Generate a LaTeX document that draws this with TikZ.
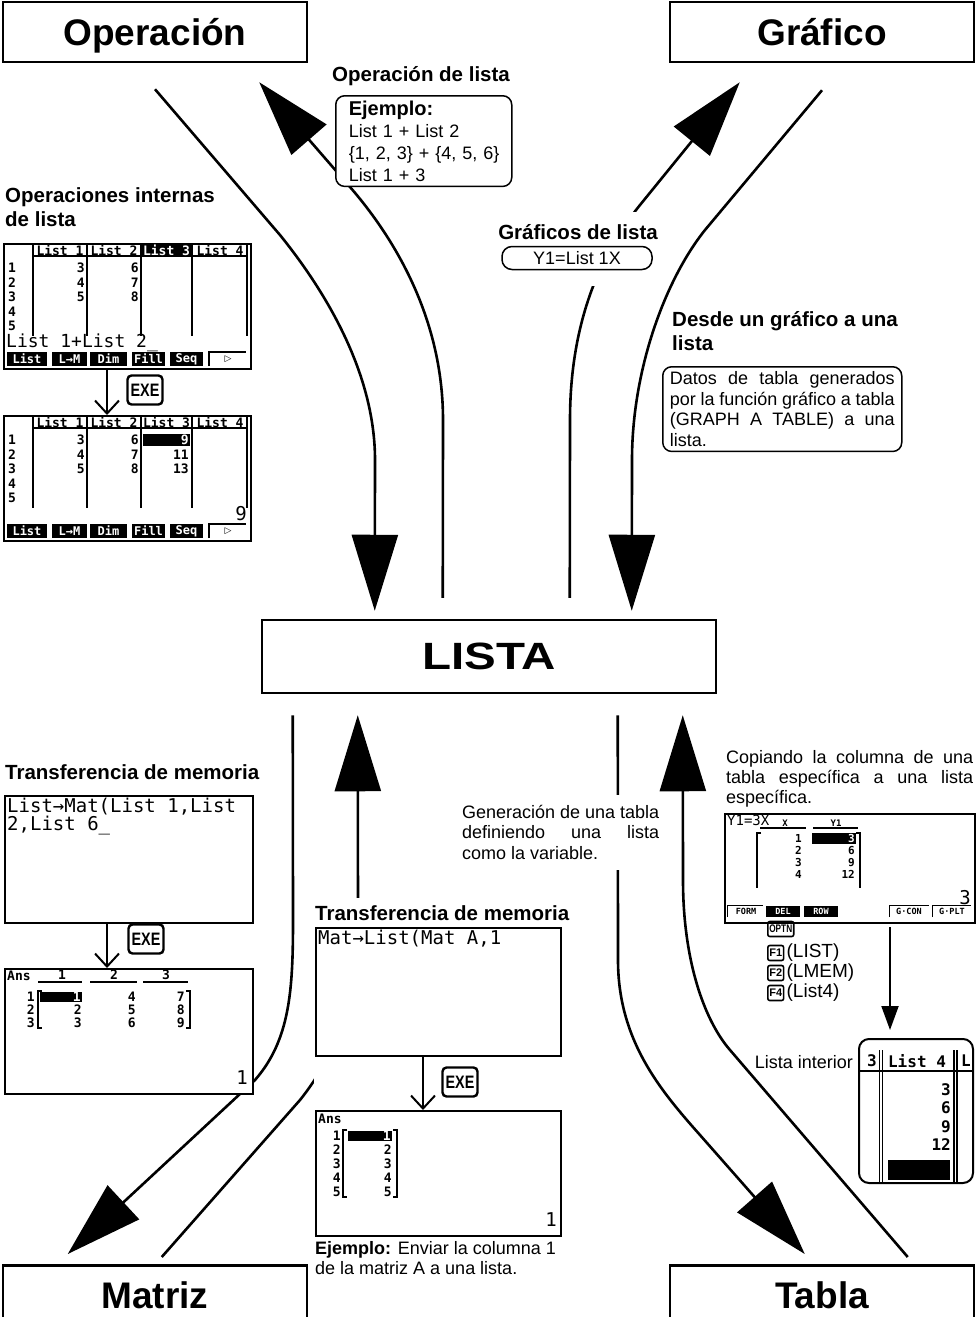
\documentclass[tikz,border=0pt]{standalone}
\usepackage{fontspec}
\setmainfont{Liberation Sans}
\newfontfamily\heavyfont{Liberation Sans}
\newfontfamily\lcdfont{DejaVu Sans Mono}
\newfontfamily\symfont{DejaVu Sans}
\usetikzlibrary{arrows.meta,positioning}

\tikzset{
  titlebox/.style={draw, line width=2.5pt, minimum width=304pt, minimum height=60pt, inner sep=0pt,
    text height=30pt, text depth=3.5pt, font=\heavyfont\bfseries\fontsize{37}{40}\selectfont},
  lbl/.style={font=\bfseries\fontsize{20.5}{24.5}\selectfont, inner sep=0pt, align=left},
  txt/.style={font=\fontsize{18}{20.5}\selectfont, inner sep=0pt},
  notebox/.style={draw, line width=1.5pt, rounded corners=9pt, fill=white},
  scr/.style={draw, line width=2pt, fill=white, inner sep=0pt, anchor=north west},
  calcline/.style={line width=1.3pt},
  lcdbig/.style={font=\lcdfont\fontsize{19}{15.5}\selectfont, inner sep=0pt, align=left},
  lcdsmall/.style={font=\lcdfont\bfseries\fontsize{13}{13}\selectfont, inner sep=0pt},
  s8text/.style={font=\lcdfont\bfseries\fontsize{16}{16}\selectfont, inner sep=0pt},
  calcmenu/.style={font=\lcdfont\bfseries\fontsize{12}{12}\selectfont, fill=black, text=white,
    inner sep=0pt, minimum height=14pt},
  exekey/.style={draw, line width=2.4pt, rounded corners=4pt, minimum width=35pt, minimum height=29pt,
    inner sep=0pt, font=\bfseries\fontsize{18}{18}\selectfont},
  fkey/.style={draw, line width=1.6pt, rounded corners=2pt, minimum height=15pt, inner sep=1.5pt,
    font=\bfseries\fontsize{11}{11}\selectfont},
  flow/.style={line width=2.6pt, -{Triangle[length=76pt,width=46pt]}},
  exearrow/.style={line width=2pt, -{Straight Barb[length=13pt,width=24pt]}},
}

\begin{document}
\begin{tikzpicture}[x=1pt, y=-1pt]
  \useasboundingbox (0,0) rectangle (978,1317);
  \clip (0,0) rectangle (978,1317);

  \node[titlebox] (oper) at (155,32) {Operación};
  \node[titlebox] (graf) at (822,32) {Gráfico};
  \node[draw, line width=2.5pt, minimum width=454pt, minimum height=73pt,
    font=\heavyfont\bfseries\fontsize{38}{40}\selectfont] (lista) at (489,656.5) {\scalebox{1.25}[1]{LISTA}};
  \node[titlebox, anchor=north] (matriz) at (155,1264) {Matriz};
  \node[titlebox, anchor=north] (tabla) at (822,1264) {Tabla};

  \draw[flow] ([yshift=-26pt]oper.south) -- (280,235) .. controls (322,287) and (375,370) .. (375,460)
    -- ([xshift=114pt,yshift=8pt]lista.north west);
  \draw[flow] ([xshift=182pt,yshift=21pt]lista.north west) -- (443,420) .. controls (443,320) and (396,240) .. (350,187)
    -- ([xshift=-49pt,yshift=-19pt]oper.south east);
  \draw[flow] ([xshift=309pt,yshift=21pt]lista.north west) -- (570,420) .. controls (570,320) and (602,252) .. (640,205)
    -- ([xshift=71pt,yshift=-19pt]graf.south west);
  \draw[flow] ([yshift=-27pt]graf.south) -- (705,230) .. controls (665,280) and (632,370) .. (632,460)
    -- ([xshift=371pt,yshift=8pt]lista.north west);
  \draw[flow] ([xshift=32pt,yshift=-21pt]lista.south west) -- (293,920) .. controls (293,990) and (290,1040) .. (255,1080)
    -- ([xshift=66pt,yshift=10pt]matriz.north west);
  \draw[flow] ([xshift=160pt,yshift=7pt]matriz.north west) -- (300,1100) .. controls (340,1050) and (358,990) .. (358,920)
    -- ([xshift=97pt,yshift=-21pt]lista.south west);
  \draw[flow] ([xshift=357pt,yshift=-21pt]lista.south west) -- (618,960) .. controls (618,1040) and (660,1090) .. (700,1135)
    -- ([xshift=136pt,yshift=10pt]tabla.north west);
  \draw[flow] ([xshift=239pt,yshift=7pt]tabla.north west) -- (730,1050) .. controls (704,1020) and (683,960) .. (683,880)
    -- ([xshift=422pt,yshift=-21pt]lista.south west);

  \fill[white] (540,212) rectangle (648,286);
  \fill[white] (314,898) rectangle (582,1246);

  \node[lbl] (oplbl) at (421,76) {Operación de lista};
  \node[notebox, txt, font=\fontsize{18}{22}\selectfont, anchor=north west, text width=162pt, align=left,
    inner xsep=7pt, inner ysep=5pt] (ejbox) at (335,95)
    {\hspace*{6pt}{\bfseries\fontsize{20}{22}\selectfont Ejemplo:}\\\hspace*{6pt}List 1 + List 2\\
     \hspace*{6pt}\{1, 2, 3\} + \{4, 5, 6\}\\\hspace*{6pt}List 1 + 3};

  \node[lbl] (grlbl) at (578,232) {Gráficos de lista};
  \node[notebox, txt, minimum width=150pt, minimum height=23pt, rounded corners=10pt] (y1box) at (577,258) {Y1=List 1X};

  \node[lbl, anchor=north west] (desde) at (672,311) {Desde un gráfico a una\\lista};
  \node[notebox, txt, anchor=north west, align=left, inner xsep=7pt, inner ysep=5pt] (gtab) at (662,366)
    {\makebox[225pt][s]{Datos de tabla generados}\\\makebox[225pt][s]{por la función gráfico a tabla}\\
     \makebox[225pt][s]{(GRAPH A TABLE) a una}\\lista.};

  \node[lbl, anchor=north west] (opint) at (5,187) {Operaciones internas\\de lista};

  \node[scr, minimum width=247pt, minimum height=125pt] (s1) at (3,243) {};
  \node[scr, minimum width=247pt, minimum height=125pt] (s2) at (3,415) {};
  \foreach \dy in {0,172} {
    \begin{scope}[shift={(0,\dy)}]
      \foreach \x in {33,87,141,192,247} \draw[calcline] (\x,244) -- (\x,336);
      \draw[calcline] (33,256) -- (248,256);
      \foreach \x/\t in {60/List 1,114/List 2,220/List 4} \node[lcdsmall] at (\x,250) {\t};
      \foreach \i/\y in {1/268,2/282.5,3/297,4/311.5,5/326} \node[lcdsmall] at (12,\y) {\i};
      \foreach \a/\b/\y in {3/6/268,4/7/282.5,5/8/297} {
        \node[lcdsmall, anchor=east] at (85,\y) {\a};
        \node[lcdsmall, anchor=east] at (139,\y) {\b};
      }
      \foreach \x/\w/\t in {27/40/List,69.5/35/L→M,108.5/37/Dim,148.5/33/Fill,186.5/33/Seq}
        \node[calcmenu, minimum width=\w pt] at (\x,359) {\t};
      \draw[calcline] (209,366) |- (246,352);
      \node[font=\symfont\fontsize{9}{9}\selectfont, inner sep=0pt] at (228,359) {▷};
    \end{scope}
  }
  \node[lcdsmall, fill=black, text=white, minimum width=49pt, minimum height=11pt] at (166.5,250) {List 3};
  \node[lcdbig, font=\lcdfont\fontsize{18}{18}\selectfont, anchor=west] at (6,343) {List 1+List 2\_};
  \node[lcdsmall] at (166.5,422) {List 3};
  \fill (143,434) rectangle (190,446);
  \node[lcdsmall, text=white, anchor=east] at (189,440) {9};
  \node[lcdsmall, anchor=east] at (189,454.5) {11};
  \node[lcdsmall, anchor=east] at (189,469) {13};
  \node[lcdbig, anchor=east] at (247,514) {9};

  \node[exekey] (e1) at (145,390) {\scalebox{0.8}[1]{EXE}};
  \draw[exearrow] ([xshift=104pt]s1.south west) -- ([xshift=104pt]s2.north west);

  \node[lbl, anchor=west] (tm1) at (5,772) {Transferencia de memoria};
  \node[scr, minimum width=248pt, minimum height=127pt] (s3) at (4,795) {};
  \node[lcdbig, anchor=north west] at (7,798) {List→Mat(List 1,List\\2,List 6\_};

  \node[scr, minimum width=248pt, minimum height=125pt] (s4) at (4,968) {};
  \node[exekey] (e2) at (146,939) {\scalebox{0.8}[1]{EXE}};
  \draw[exearrow] ([xshift=103pt]s3.south west) -- ([xshift=103pt]s4.north west);
  \node[lcdsmall, anchor=west] at (7,976) {Ans};
  \foreach \x/\t in {62/1,114/2,166/3} \node[lcdsmall] at (\x,975) {\t};
  \draw[calcline] (38,982) -- (82,982) (90,982) -- (137,982) (143,982) -- (188,982);
  \draw[calcline] (42,991) -- (38,991) -- (38,1028) -- (42,1028);
  \draw[calcline] (186,991) -- (190,991) -- (190,1028) -- (186,1028);
  \foreach \i/\y in {1/997,2/1010,3/1023} \node[lcdsmall, anchor=east] at (35,\y) {\i};
  \fill (40,992) rectangle (82,1002);
  \node[lcdsmall, text=white, anchor=east] at (81,997) {1};
  \node[lcdsmall, anchor=east] at (82,1010) {2};
  \node[lcdsmall, anchor=east] at (82,1023) {3};
  \foreach \a/\b/\y in {4/7/997,5/8/1010,6/9/1023} {
    \node[lcdsmall, anchor=east] at (136,\y) {\a};
    \node[lcdsmall, anchor=east] at (185,\y) {\b};
  }
  \node[lcdbig, anchor=east] at (248,1078) {1};

  \node[txt, anchor=north west, align=left, fill=white, inner ysep=10pt] (gen) at (462,795)
    {\makebox[197pt][s]{Generación de una tabla}\\\makebox[197pt][s]{definiendo una lista}\\como la variable.};

  \node[lbl, anchor=west] (tm2) at (315,913) {Transferencia de memoria};
  \node[scr, minimum width=245pt, minimum height=128pt] (s5) at (315,927) {};
  \node[lcdbig, anchor=west] at (318,939) {Mat→List(Mat A,1};

  \node[scr, minimum width=245pt, minimum height=125pt] (s6) at (315,1110) {};
  \node[exekey] (e3) at (460,1082) {\scalebox{0.8}[1]{EXE}};
  \draw[exearrow] ([xshift=108pt]s5.south west) -- ([xshift=108pt]s6.north west);
  \node[lcdsmall, anchor=west] at (318,1119) {Ans};
  \foreach \i/\y in {1/1136,2/1150,3/1164,4/1178,5/1192} \node[lcdsmall, anchor=east] at (341,\y) {\i};
  \draw[calcline] (347,1130) -- (343,1130) -- (343,1197) -- (347,1197);
  \draw[calcline] (393,1130) -- (397,1130) -- (397,1197) -- (393,1197);
  \fill (348,1131) rectangle (392,1141);
  \node[lcdsmall, text=white, anchor=east] at (391,1136) {1};
  \foreach \i/\y in {2/1150,3/1164,4/1178,5/1192} \node[lcdsmall, anchor=east] at (392,\y) {\i};
  \node[lcdbig, anchor=east] at (557,1220) {1};

  \node[txt, anchor=north west, align=left, font=\fontsize{18}{20}\selectfont] (ejm) at (315,1241)
    {{\bfseries Ejemplo:} Enviar la columna 1\\de la matriz A a una lista.};

  \node[txt, anchor=north west, align=left, font=\fontsize{18}{20}\selectfont] (copia) at (726,750)
    {\makebox[247pt][s]{Copiando la columna de una}\\\makebox[247pt][s]{tabla específica a una lista}\\específica.};

  \node[scr, minimum width=250pt, minimum height=109pt] (s7) at (724,813) {};
  \node[lcdbig, anchor=west, font=\lcdfont\fontsize{14}{14}\selectfont] at (727,820) {Y1=3X};
  \node[lcdsmall, font=\lcdfont\bfseries\fontsize{9}{9}\selectfont] at (785,823) {X};
  \node[lcdsmall, font=\lcdfont\bfseries\fontsize{9}{9}\selectfont] at (836,823) {Y1};
  \draw[calcline] (760,828) -- (806,828) (813,828) -- (858,828);
  \draw[calcline] (761,833) -- (757,833) -- (757,888);
  \draw[calcline] (856,833) -- (860,833) -- (860,888);
  \fill (812,833) rectangle (856,844);
  \node[lcdsmall, font=\lcdfont\bfseries\fontsize{11}{11}\selectfont, text=white, anchor=east] at (855,838.5) {3};
  \foreach \a/\y in {1/838.5,2/850.5,3/862.5,4/874.5}
    \node[lcdsmall, font=\lcdfont\bfseries\fontsize{11}{11}\selectfont, anchor=east] at (802,\y) {\a};
  \foreach \b/\y in {6/850.5,9/862.5,12/874.5}
    \node[lcdsmall, font=\lcdfont\bfseries\fontsize{11}{11}\selectfont, anchor=east] at (855,\y) {\b};
  \node[lcdbig, anchor=east] at (971,898) {3};
  \draw[line width=1pt] (727,917) |- (763,905) (889,917) |- (929,905) (932,917) |- (971,905);
  \foreach \x/\t in {746/FORM,909/G·CON,952/G·PLT}
    \node[lcdsmall, font=\lcdfont\bfseries\fontsize{8.5}{8.5}\selectfont] at (\x,911.5) {\t};
  \foreach \x/\t in {783/DEL,821/ROW}
    \node[calcmenu, font=\lcdfont\bfseries\fontsize{8.5}{8.5}\selectfont, minimum width=34pt, minimum height=11pt] at (\x,911) {\t};

  \node[fkey, anchor=west] (optn) at (767,929) {\scalebox{0.75}[1]{OPTN}};
  \node[fkey, anchor=west] (f1) at (767,953) {F1};
  \node[txt, font=\fontsize{19}{19}\selectfont, right=2pt of f1] (lst) {(LIST)};
  \node[fkey, anchor=west] (f2) at (767,973) {F2};
  \node[txt, font=\fontsize{19}{19}\selectfont, right=2pt of f2] (lmem) {(LMEM)};
  \node[fkey, anchor=west] (f4) at (767,993) {F4};
  \node[txt, font=\fontsize{19}{19}\selectfont, right=2pt of f4] (lfour) {(List4)};

  \node[draw, line width=2pt, rounded corners=10pt, fill=white, minimum width=114pt, minimum height=144pt,
    anchor=north west, inner sep=0pt] (s8) at (858,1038) {};
  \coordinate (kd) at (890,927);
  \draw[line width=2pt, -{Triangle[length=24pt,width=17pt]}] (kd) -- ([xshift=32pt,yshift=8pt]s8.north west);
  \begin{scope}
    \clip[rounded corners=10pt] (858,1038) rectangle (972,1182);
    \draw[calcline] (858,1071) -- (972,1071);
    \draw[line width=1.2pt] (879.5,1050) -- (879.5,1182) (882.5,1050) -- (882.5,1182)
      (954,1050) -- (954,1182) (957,1050) -- (957,1182);
    \node[s8text, anchor=east] at (877,1061) {3};
    \node[s8text] at (917,1061) {List 4};
    \node[s8text, anchor=west] at (961,1061) {L};
    \foreach \v/\y in {3/1090,6/1108,9/1127,12/1145} \node[s8text, anchor=east] at (951,\y) {\v};
    \fill (888,1160) rectangle (950,1180);
  \end{scope}
  \node[txt, anchor=east] (lint) at (853,1062) {Lista interior};
\end{tikzpicture}
\end{document}
